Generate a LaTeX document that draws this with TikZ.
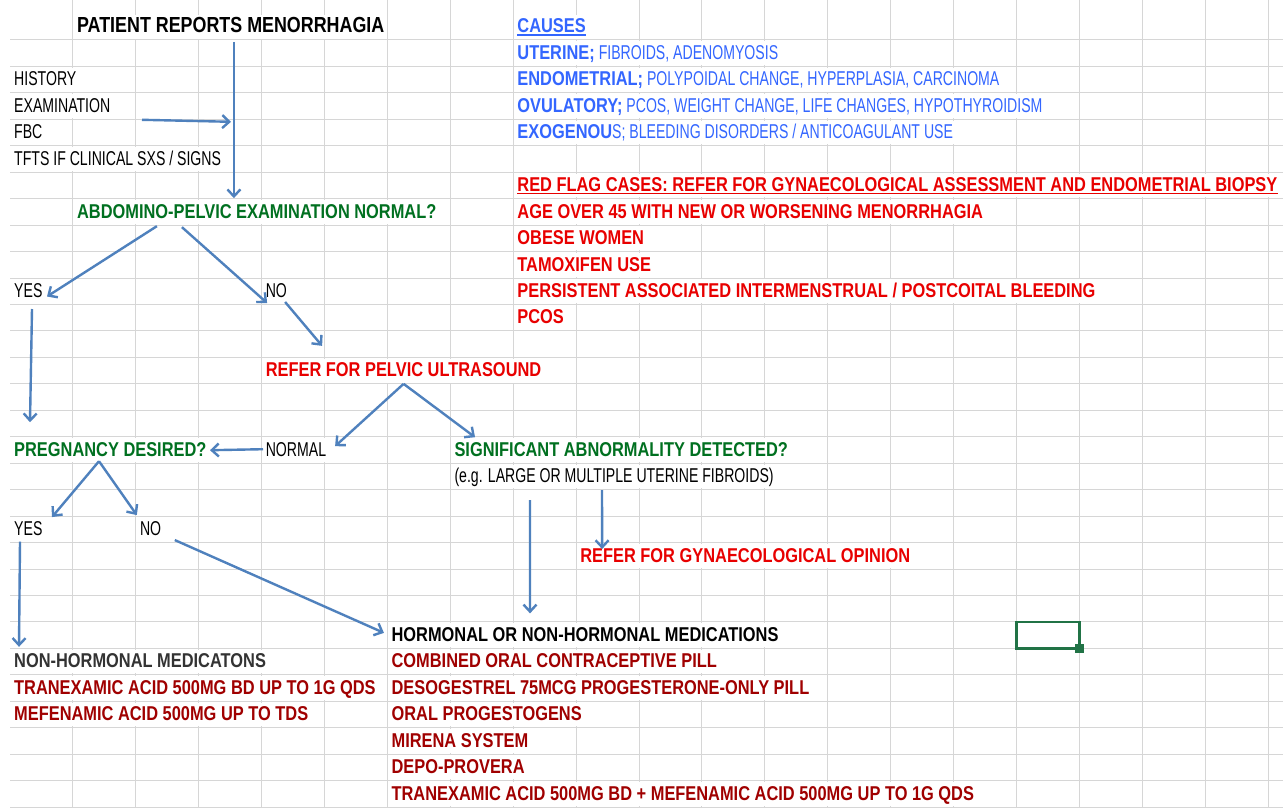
\documentclass[tikz,border=0pt]{standalone}
\usepackage{fontspec}
\setmainfont{Liberation Sans}[FakeStretch=0.705,BoldFeatures={FakeStretch=0.82}]
\usetikzlibrary{arrows.meta}

\definecolor{gridgrey}{RGB}{214,214,214}
\definecolor{arrowblue}{RGB}{79,129,189}
\definecolor{causeblue}{RGB}{51,102,255}
\definecolor{askgreen}{RGB}{0,112,32}
\definecolor{flagred}{RGB}{232,0,0}
\definecolor{drugred}{RGB}{160,0,0}
\definecolor{selgreen}{RGB}{33,115,70}
\newcommand\cellsize{\fontsize{20}{24}\selectfont}

\begin{document}
\begin{tikzpicture}
	[x=62.9pt, y=-26.45pt,
	 >={Straight Barb[length=7pt,width=13pt]},
	 gridline/.style={gridgrey, line width=1pt},
	 txt/.style={anchor=base west, inner sep=0pt, xshift=4pt, yshift=-19.45pt, font=\cellsize},
	 heading/.style={txt, font=\cellsize\bfseries},
	 ask/.style={txt, font=\cellsize\bfseries, askgreen},
	 warn/.style={txt, font=\cellsize\bfseries, flagred},
	 drug/.style={txt, font=\cellsize\bfseries, drugred},
	 cause/.style={txt, causeblue},
	 flow/.style={->, arrowblue, line width=2.4pt}]

   \fill[white] (-0.159,-0.512) rectangle (20.238,30.036);
   \useasboundingbox (-0.159,-0.512) rectangle (20.238,30.036);

   % sheet grid
   \foreach \r in {1,...,30} \draw[gridline] (0,\r) -- (20.238,\r);
   \foreach \c in {1,...,20} \draw[gridline] (\c,-0.512) -- (\c,30.036);
   % cells that text runs over
   \foreach \r/\a/\b in {0/1/6, 0/8/10, 1/8/13, 2/0/2, 2/8/16, 3/0/2, 3/8/17,
       4/8/16, 5/0/4, 6/8/20.3, 7/1/7, 7/8/16, 8/8/11, 9/8/11, 10/8/18,
       13/4/9, 16/0/4, 16/4/6, 16/7/13, 17/7/13, 20/9/15, 23/6/13, 24/0/5,
       24/6/12, 25/0/6, 25/6/13, 26/0/5, 26/6/10, 27/6/9, 28/6/9, 29/6/16}
     \fill[white] (\a+0.02,\r+0.05) rectangle (\b-0.02,\r+0.95);

   \node[heading, font=\fontsize{21.8}{24}\selectfont\bfseries] (patient) at (1,0) {PATIENT REPORTS MENORRHAGIA};
   \node[txt] (history) at (0,2) {HISTORY};
   \node[txt] (exam) at (0,3) {EXAMINATION};
   \node[txt] (fbc) at (0,4) {FBC};
   \node[txt] (tfts) at (0,5) {TFTS IF CLINICAL SXS / SIGNS};
   \node[ask] (abdo) at (1,7) {ABDOMINO-PELVIC EXAMINATION NORMAL?};
   \node[txt] (yesA) at (0,10) {YES};
   \node[txt] (noA) at (4,10) {NO};
   \node[warn] (pelvic) at (4,13) {REFER FOR PELVIC ULTRASOUND};
   \node[ask] (preg) at (0,16) {PREGNANCY DESIRED?};
   \node[txt] (normal) at (4,16) {NORMAL};
   \node[ask] (signif) at (7,16) {SIGNIFICANT ABNORMALITY DETECTED?};
   \node[txt] (eg) at (7,17) {(e.g. LARGE OR MULTIPLE UTERINE FIBROIDS)};
   \node[txt] (yesB) at (0,19) {YES};
   \node[txt] (noB) at (2,19) {NO};
   \node[warn] (gynae) at (9,20) {REFER FOR GYNAECOLOGICAL OPINION};

   % causes and red flags
   \node[cause, font=\cellsize\bfseries] (causes) at (8,0) {CAUSES};
   \node[cause] (uterine) at (8,1) {\textbf{UTERINE;} FIBROIDS, ADENOMYOSIS};
   \node[cause] (endo) at (8,2) {\textbf{ENDOMETRIAL;} POLYPOIDAL CHANGE, HYPERPLASIA, CARCINOMA};
   \node[cause] (ovul) at (8,3) {\textbf{OVULATORY;} PCOS, WEIGHT CHANGE, LIFE CHANGES, HYPOTHYROIDISM};
   \node[cause] (exog) at (8,4) {\textbf{EXOGENOU}S; BLEEDING DISORDERS / ANTICOAGULANT USE};
   \node[warn] (redflag) at (8,6) {RED FLAG CASES: REFER FOR GYNAECOLOGICAL ASSESSMENT AND ENDOMETRIAL BIOPSY};
   \node[warn] (age) at (8,7) {AGE OVER 45 WITH NEW OR WORSENING MENORRHAGIA};
   \node[warn] (obese) at (8,8) {OBESE WOMEN};
   \node[warn] (tamox) at (8,9) {TAMOXIFEN USE};
   \node[warn] (persist) at (8,10) {PERSISTENT ASSOCIATED INTERMENSTRUAL / POSTCOITAL BLEEDING};
   \node[warn] (pcos) at (8,11) {PCOS};
   \draw[causeblue, line width=1.4pt] ([yshift=-2pt]causes.base west) -- ([yshift=-2pt]causes.base east);
   \draw[flagred, line width=1.4pt] ([yshift=-2pt]redflag.base west) -- ([yshift=-2pt]redflag.base east);

   % medications
   \node[heading] (hormonal) at (6,23) {HORMONAL OR NON-HORMONAL MEDICATIONS};
   \node[drug] (coc) at (6,24) {COMBINED ORAL CONTRACEPTIVE PILL};
   \node[drug] (deso) at (6,25) {DESOGESTREL 75MCG PROGESTERONE-ONLY PILL};
   \node[drug] (oralprog) at (6,26) {ORAL PROGESTOGENS};
   \node[drug] (mirena) at (6,27) {MIRENA SYSTEM};
   \node[drug] (depo) at (6,28) {DEPO-PROVERA};
   \node[drug] (tranexB) at (6,29) {TRANEXAMIC ACID 500MG BD + MEFENAMIC ACID 500MG UP TO 1G QDS};
   \node[heading, black!80] (nonhorm) at (0,24) {NON-HORMONAL MEDICATONS};
   \node[drug] (tranexA) at (0,25) {TRANEXAMIC ACID 500MG BD UP TO 1G QDS};
   \node[drug] (mefen) at (0,26) {MEFENAMIC ACID 500MG UP TO TDS};

   % selected cell
   \draw[selgreen, line width=2.5pt] (16,23) rectangle (17,24);
   \fill[selgreen] (17,24) ++(-4.5pt,-4.5pt) rectangle ++(9pt,9pt);

   \path[flow]
    ([xshift=157pt,yshift=-9pt]patient.base west)
          edge ([xshift=157pt,yshift=20pt]abdo.base west)
    ([xshift=128pt,yshift=19pt]fbc.base west)
          edge ([xshift=217pt,yshift=17pt]fbc.base west)
    ([xshift=80pt,yshift=-8pt]abdo.base west)
          edge ([xshift=33pt,yshift=1pt]yesA.base west)
    ([xshift=105pt,yshift=-9pt]abdo.base west)
          edge ([xshift=1.5pt,yshift=-5.5pt]noA.base west)
    ([xshift=19.5pt,yshift=-4.5pt]noA.base west)
          edge ([xshift=56.5pt,yshift=31pt]pelvic.base west)
    ([xshift=18pt,yshift=-11.5pt]yesA.base west)
          edge ([xshift=16pt,yshift=34pt]preg.base west)
    ([xshift=138pt,yshift=-7pt]pelvic.base west)
          edge ([xshift=69.5pt,yshift=10pt]normal.base west)
          edge ([xshift=20.7pt,yshift=19pt]signif.base west)
    ([xshift=-2.6pt,yshift=7pt]normal.base west)
          edge ([xshift=196pt,yshift=6pt]preg.base west)
    ([xshift=85pt,yshift=-5pt]preg.base west)
          edge ([xshift=38pt,yshift=18.5pt]yesB.base west)
          edge ([xshift=-3pt,yshift=20.5pt]noB.base west)
    ([xshift=6pt,yshift=-6pt]yesB.base west)
          edge ([xshift=5pt,yshift=21pt]nonhorm.base west)
    ([xshift=35pt,yshift=-4.5pt]noB.base west)
          edge ([xshift=-7.5pt,yshift=8.5pt]hormonal.base west)
    ([xshift=75.7pt,yshift=-17.5pt]eg.base west)
          edge ([xshift=138.6pt,yshift=28pt]hormonal.base west)
    ([xshift=147.7pt,yshift=-7.5pt]eg.base west)
          edge ([xshift=22pt,yshift=13pt]gynae.base west);

\end{tikzpicture}
\end{document}
